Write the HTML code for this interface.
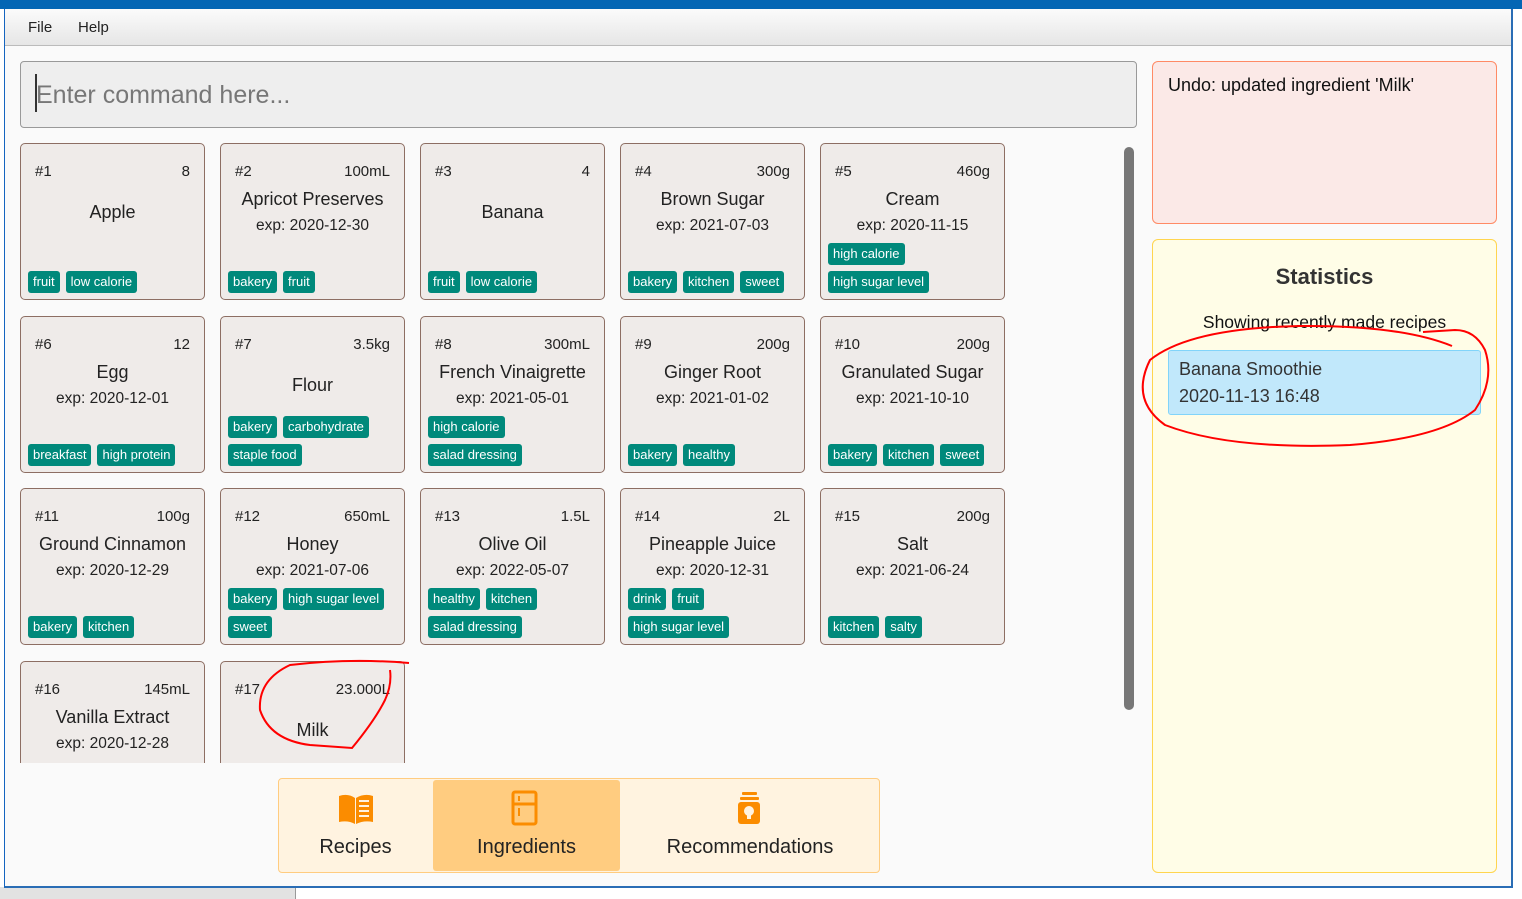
<!DOCTYPE html>
<html><head><meta charset="utf-8"><style>
*{margin:0;padding:0;box-sizing:border-box}
body{width:1522px;height:899px;overflow:hidden;background:#fff;font-family:"Liberation Sans",sans-serif;color:#222;position:relative}
.a{position:absolute}
.win{left:4px;top:0;width:1509px;height:888px;background:#fafafa;border-left:1px solid #1565c0;border-right:2px solid #2a6db5;border-bottom:2px solid #2a6db5}
.card{position:absolute;width:185px;height:157px;background:#efebe9;border:1.5px solid #8d6e63;border-radius:5px}
.card .n{position:absolute;left:14px;top:19px;font-size:15px}
.card .q{position:absolute;right:14px;top:19px;font-size:15px}
.card .nm{position:absolute;left:0;right:0;text-align:center;font-size:18px}
.card .ex{position:absolute;left:0;right:0;top:73px;text-align:center;font-size:15.5px}
.tr{position:absolute;left:7px;display:flex;gap:6px}
.t{background:#00897b;color:#fff;font-size:13px;height:22px;line-height:22px;padding:0 5px;border-radius:3px;white-space:nowrap}
.r1{top:127px}.r0{top:99px}
</style></head><body>
<div class="a" style="left:0;top:887px;width:296px;height:12px;background:#e2e2e2"></div>
<div class="a" style="left:295px;top:887px;width:1px;height:12px;background:#999"></div>
<div class="a win"></div>
<div class="a" style="left:0;top:0;width:1522px;height:9px;background:#0466b4"></div>
<div class="a" style="left:5px;top:9px;width:1506px;height:37px;background:linear-gradient(#fbfbfb,#e6e6e6);border-bottom:1px solid #bbb"></div>
<div class="a" style="left:28px;top:19px;font-size:15px">File</div>
<div class="a" style="left:78px;top:19px;font-size:15px">Help</div>

<div class="a" style="left:20px;top:61px;width:1117px;height:67px;background:#eee;border:1.5px solid #999;border-radius:4px"></div>
<div class="a" style="left:35px;top:74px;width:2px;height:38px;background:#333"></div>
<div class="a" style="left:36px;top:81px;font-size:25px;color:#777">Enter command here...</div>

<div class="a" style="left:1124px;top:147px;width:10px;height:563px;background:#777;border-radius:5px"></div>

<!-- row 1 -->
<div class="card" style="left:20px;top:143px"><div class="n">#1</div><div class="q">8</div><div class="nm" style="top:58px">Apple</div><div class="tr r1"><span class="t">fruit</span><span class="t">low calorie</span></div></div>
<div class="card" style="left:220px;top:143px"><div class="n">#2</div><div class="q">100mL</div><div class="nm" style="top:45px">Apricot Preserves</div><div class="ex">exp: 2020-12-30</div><div class="tr r1"><span class="t">bakery</span><span class="t">fruit</span></div></div>
<div class="card" style="left:420px;top:143px"><div class="n">#3</div><div class="q">4</div><div class="nm" style="top:58px">Banana</div><div class="tr r1"><span class="t">fruit</span><span class="t">low calorie</span></div></div>
<div class="card" style="left:620px;top:143px"><div class="n">#4</div><div class="q">300g</div><div class="nm" style="top:45px">Brown Sugar</div><div class="ex">exp: 2021-07-03</div><div class="tr r1"><span class="t">bakery</span><span class="t">kitchen</span><span class="t">sweet</span></div></div>
<div class="card" style="left:820px;top:143px"><div class="n">#5</div><div class="q">460g</div><div class="nm" style="top:45px">Cream</div><div class="ex">exp: 2020-11-15</div><div class="tr r0"><span class="t">high calorie</span></div><div class="tr r1"><span class="t">high sugar level</span></div></div>
<!-- row 2 -->
<div class="card" style="left:20px;top:316px"><div class="n">#6</div><div class="q">12</div><div class="nm" style="top:45px">Egg</div><div class="ex">exp: 2020-12-01</div><div class="tr r1"><span class="t">breakfast</span><span class="t">high protein</span></div></div>
<div class="card" style="left:220px;top:316px"><div class="n">#7</div><div class="q">3.5kg</div><div class="nm" style="top:58px">Flour</div><div class="tr r0"><span class="t">bakery</span><span class="t">carbohydrate</span></div><div class="tr r1"><span class="t">staple food</span></div></div>
<div class="card" style="left:420px;top:316px"><div class="n">#8</div><div class="q">300mL</div><div class="nm" style="top:45px">French Vinaigrette</div><div class="ex">exp: 2021-05-01</div><div class="tr r0"><span class="t">high calorie</span></div><div class="tr r1"><span class="t">salad dressing</span></div></div>
<div class="card" style="left:620px;top:316px"><div class="n">#9</div><div class="q">200g</div><div class="nm" style="top:45px">Ginger Root</div><div class="ex">exp: 2021-01-02</div><div class="tr r1"><span class="t">bakery</span><span class="t">healthy</span></div></div>
<div class="card" style="left:820px;top:316px"><div class="n">#10</div><div class="q">200g</div><div class="nm" style="top:45px">Granulated Sugar</div><div class="ex">exp: 2021-10-10</div><div class="tr r1"><span class="t">bakery</span><span class="t">kitchen</span><span class="t">sweet</span></div></div>
<!-- row 3 -->
<div class="card" style="left:20px;top:488px"><div class="n">#11</div><div class="q">100g</div><div class="nm" style="top:45px">Ground Cinnamon</div><div class="ex">exp: 2020-12-29</div><div class="tr r1"><span class="t">bakery</span><span class="t">kitchen</span></div></div>
<div class="card" style="left:220px;top:488px"><div class="n">#12</div><div class="q">650mL</div><div class="nm" style="top:45px">Honey</div><div class="ex">exp: 2021-07-06</div><div class="tr r0"><span class="t">bakery</span><span class="t">high sugar level</span></div><div class="tr r1"><span class="t">sweet</span></div></div>
<div class="card" style="left:420px;top:488px"><div class="n">#13</div><div class="q">1.5L</div><div class="nm" style="top:45px">Olive Oil</div><div class="ex">exp: 2022-05-07</div><div class="tr r0"><span class="t">healthy</span><span class="t">kitchen</span></div><div class="tr r1"><span class="t">salad dressing</span></div></div>
<div class="card" style="left:620px;top:488px"><div class="n">#14</div><div class="q">2L</div><div class="nm" style="top:45px">Pineapple Juice</div><div class="ex">exp: 2020-12-31</div><div class="tr r0"><span class="t">drink</span><span class="t">fruit</span></div><div class="tr r1"><span class="t">high sugar level</span></div></div>
<div class="card" style="left:820px;top:488px"><div class="n">#15</div><div class="q">200g</div><div class="nm" style="top:45px">Salt</div><div class="ex">exp: 2021-06-24</div><div class="tr r1"><span class="t">kitchen</span><span class="t">salty</span></div></div>
<!-- row 4 clipped -->
<div class="a" style="left:0;top:661px;width:1120px;height:102px;overflow:hidden">
<div class="card" style="left:20px;top:0"><div class="n">#16</div><div class="q">145mL</div><div class="nm" style="top:45px">Vanilla Extract</div><div class="ex">exp: 2020-12-28</div></div>
<div class="card" style="left:220px;top:0"><div class="n">#17</div><div class="q">23.000L</div><div class="nm" style="top:58px">Milk</div></div>
</div>

<!-- tabs -->
<div class="a" style="left:278px;top:778px;width:602px;height:95px;background:#fff3e0;border:1.5px solid #ffcc80;border-radius:4px"></div>
<div class="a" style="left:433px;top:780px;width:187px;height:91px;background:#ffcc80;border-radius:3px"></div>
<svg class="a" style="left:278px;top:778px" width="602" height="95">
<path d="M61 18 Q70 15 77 20 L77 46 Q70 42 61 44 Z" fill="#fb8c00"/>
<path d="M78 20 Q86 15 95 18 L95 44 Q86 42 78 46 Z" fill="#fb8c00"/>
<rect x="81" y="22" width="10" height="2" fill="#fff3e0"/><rect x="81" y="27" width="10" height="2" fill="#fff3e0"/><rect x="81" y="32" width="10" height="2" fill="#fff3e0"/><rect x="81" y="37" width="10" height="2" fill="#fff3e0"/>
<rect x="235" y="14" width="23" height="32" rx="2" fill="none" stroke="#fb8c00" stroke-width="3"/>
<line x1="235" y1="26" x2="258" y2="26" stroke="#fb8c00" stroke-width="3"/>
<rect x="240" y="18" width="2" height="5" fill="#fb8c00"/><rect x="240" y="30" width="2" height="8" fill="#fb8c00"/>
<rect x="464" y="14" width="15" height="3" rx="1" fill="#fb8c00"/><rect x="462" y="19" width="19" height="3" rx="1" fill="#fb8c00"/>
<rect x="460" y="24" width="22" height="22" rx="3" fill="#fb8c00"/>
<circle cx="471" cy="33" r="5" fill="#fff3e0"/><rect x="469" y="37" width="4" height="4" fill="#fff3e0"/>
</svg>
<div class="a" style="left:278px;top:836px;width:155px;text-align:center;font-size:20px">Recipes</div>
<div class="a" style="left:433px;top:836px;width:187px;text-align:center;font-size:20px">Ingredients</div>
<div class="a" style="left:620px;top:836px;width:260px;text-align:center;font-size:20px">Recommendations</div>

<!-- right -->
<div class="a" style="left:1152px;top:61px;width:345px;height:163px;background:#fbe9e7;border:1.5px solid #ff8a65;border-radius:6px"></div>
<div class="a" style="left:1168px;top:75px;font-size:18px;color:#111">Undo: updated ingredient 'Milk'</div>
<div class="a" style="left:1152px;top:239px;width:345px;height:634px;background:#fffde7;border:1.5px solid #ffd54f;border-radius:6px"></div>
<div class="a" style="left:1152px;top:264px;width:345px;text-align:center;font-size:22px;font-weight:bold;color:#333">Statistics</div>
<div class="a" style="left:1152px;top:312px;width:345px;text-align:center;font-size:17.5px;color:#111">Showing recently made recipes</div>
<div class="a" style="left:1168px;top:350px;width:313px;height:65px;background:#c1e8fb;border:1px solid #81d4fa;border-radius:3px"></div>
<div class="a" style="left:1179px;top:356px;font-size:18px;line-height:27px;color:#333">Banana Smoothie<br>2020-11-13 16:48</div>

<svg class="a" style="left:0;top:0" width="1522" height="899">
<g fill="none" stroke="#f00" stroke-width="2">
<path d="M1452 346 Q1400 325 1300 326 Q1190 328 1150 360 Q1130 400 1165 425 Q1230 450 1350 445 Q1440 438 1475 410 Q1495 380 1485 350 Q1475 330 1455 330 Q1440 331 1423 332"/>
<path d="M409 663 Q350 658 290 665 Q258 680 260 710 Q270 740 310 745 L352 748 Q375 720 385 700 Q392 685 390 670"/>
</g>
</svg>
</body></html>
